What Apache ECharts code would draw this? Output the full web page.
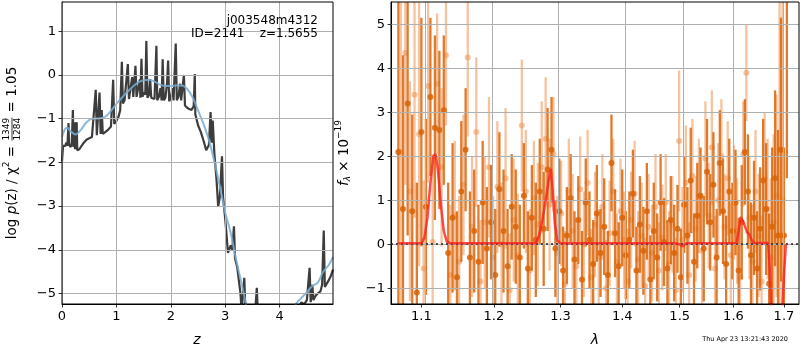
<!DOCTYPE html>
<html>
<head>
<meta charset="utf-8">
<script src="https://cdn.jsdelivr.net/npm/echarts@6/dist/echarts.min.js"></script>
<style>
  html, body { margin: 0; padding: 0; background: #fff; }
  #chart { width: 800px; height: 350px; }
</style>
</head>
<body>
<div id="chart"></div>
<script>
// 左图: log p(z)
const zDark = [0.00, 0.02, 0.04, 0.06, 0.08, 0.10, 0.12, 0.13, 0.16, 0.18, 0.20, 0.21, 0.23, 0.24, 0.27, 0.28,
  0.32, 0.36, 0.40, 0.45, 0.50, 0.55, 0.58, 0.62, 0.64, 0.66, 0.69, 0.71, 0.73, 0.75, 0.80, 0.85, 0.90, 0.94,
  0.96, 1.00, 1.04, 1.07, 1.10, 1.12, 1.15, 1.18, 1.21, 1.23, 1.26, 1.29, 1.31, 1.35, 1.37, 1.40, 1.43, 1.44,
  1.46, 1.48, 1.50, 1.53, 1.55, 1.57, 1.60, 1.62, 1.64, 1.67, 1.70, 1.735, 1.75, 1.78, 1.81, 1.83, 1.85, 1.87,
  1.90, 1.93, 1.95, 1.97, 2.00, 2.03, 2.05, 2.09, 2.11, 2.14, 2.17, 2.19, 2.24, 2.26, 2.30, 2.34, 2.38, 2.42,
  2.44, 2.45, 2.50, 2.55, 2.60, 2.65, 2.70, 2.73, 2.75, 2.77, 2.80, 2.84, 2.87, 2.90, 2.94, 2.96, 3.00, 3.05,
  3.10, 3.13, 3.16, 3.18, 3.22, 3.25, 3.28, 3.30, 3.35, 3.37, 3.45, 3.55, 3.58, 3.60, 3.80, 4.00, 4.20, 4.35,
  4.40, 4.45, 4.50, 4.55, 4.57, 4.60, 4.62, 4.66, 4.70, 4.75, 4.78, 4.81, 4.83, 4.86, 4.90, 4.94, 4.98];
const pDark = [-1.98, -1.62, -1.58, -1.62, -1.55, -1.62, -1.10, -1.60, -1.65, -1.55, -0.80, -1.65, -1.08, -1.70, -1.08, -1.72,
  -1.70, -1.62, -1.55, -1.48, -1.45, -1.42, -1.38, -0.34, -1.38, -1.36, -0.40, -1.35, -0.80, -1.35, -1.30, -1.25, -1.18, -0.11,
  -1.12, -1.05, -0.95, -0.80, 0.30, -0.65, -0.58, -0.55, 0.25, -0.55, -0.52, -0.05, -0.50, 0.21, -0.50, -0.50, -0.10, -0.52,
  0.37, -0.50, -0.40, -0.45, 0.78, -0.52, -0.45, -0.10, -0.52, -0.48, -0.55, 0.67, -0.58, -0.50, -0.30, -0.58, 0.36, -0.58,
  -0.52, -0.20, 0.33, -0.60, -0.52, -0.30, -0.58, 0.72, -0.58, -0.50, -0.20, -0.58, 0.00, -0.70, -0.75, -0.78, -0.80, -0.72,
  0.02, -0.90, -1.15, -1.30, -1.50, -1.72, -1.60, -0.85, -1.55, -1.04, -1.80, -2.40, -3.01, -2.80, -1.86, -2.80, -3.30, -4.07,
  -3.90, -4.00, -3.46, -4.20, -4.40, -4.70, -5.00, -5.40, -4.64, -5.40, -5.50, -5.40, -4.87, -5.50, -6.00, -6.20, -5.90, -5.30,
  -5.20, -5.25, -5.15, -4.41, -5.20, -4.80, -5.15, -5.05, -5.00, -4.95, -4.80, -3.56, -4.85, -4.87, -4.70, -4.60, -4.45];

const zSmooth = [0.00, 0.05, 0.10, 0.15, 0.25, 0.35, 0.45, 0.55, 0.70, 0.80, 0.90, 1.00, 1.10, 1.20, 1.30, 1.40, 1.50,
  1.60, 1.70, 1.80, 1.90, 2.00, 2.10, 2.20, 2.30, 2.40, 2.50, 2.60, 2.70, 2.80, 2.90, 3.00, 3.10, 3.20, 3.30, 3.40,
  3.60, 4.00, 4.20, 4.30, 4.40, 4.50, 4.60, 4.70, 4.80, 4.90, 4.98];
const pSmooth = [-1.42, -1.25, -1.21, -1.28, -1.36, -1.25, -1.08, -1.00, -0.99, -0.95, -0.82, -0.66, -0.52, -0.39, -0.27, -0.17, -0.12,
  -0.11, -0.15, -0.22, -0.25, -0.25, -0.24, -0.24, -0.32, -0.51, -0.81, -1.12, -1.49, -1.98, -2.55, -3.15, -3.61, -4.23, -4.77, -5.35,
  -6.30, -6.60, -5.60, -5.24, -5.10, -4.97, -4.83, -4.75, -4.50, -4.35, -4.17];

const zTicks = [0, 1, 2, 3, 4];
const pTicks = [-5, -4, -3, -2, -1, 0, 1];

// 右图: 光谱
const lamA = [1.070, 1.076, 1.082, 1.088, 1.094, 1.100, 1.106, 1.112, 1.118, 1.124, 1.130, 1.136, 1.142, 1.148, 1.154,
  1.160, 1.166, 1.172, 1.178, 1.184, 1.190, 1.196, 1.202, 1.208, 1.214, 1.220, 1.226, 1.232, 1.238, 1.244, 1.250,
  1.256, 1.262, 1.268, 1.274, 1.280, 1.286, 1.292, 1.298, 1.304, 1.310, 1.316, 1.322, 1.328, 1.334, 1.340, 1.346,
  1.352, 1.358, 1.364, 1.370, 1.376, 1.382, 1.388, 1.394, 1.400, 1.406, 1.412, 1.418, 1.424, 1.430, 1.436, 1.442,
  1.448, 1.454, 1.460, 1.466, 1.472, 1.478, 1.484, 1.490, 1.496, 1.502, 1.508, 1.514, 1.520, 1.526, 1.532, 1.538,
  1.544, 1.550, 1.556, 1.562, 1.568, 1.574, 1.580, 1.586, 1.592, 1.598, 1.604, 1.610, 1.616, 1.622, 1.628, 1.634,
  1.640, 1.646, 1.652, 1.658, 1.664, 1.670, 1.676, 1.682, 1.688, 1.694, 1.700, 1.706];
const fluxA = [2.10, 0.80, 3.20, 0.75, -1.10, 2.55, 0.85, 3.35, 2.65, 2.60, 3.05, -0.20, 0.60, -0.75, 1.20,
  2.15, -0.30, 0.30, -0.40, 0.95, -0.10, 0.50, -0.70, 1.25, 0.30, -0.50, 0.85, 0.40, -0.30, 1.10, -0.55,
  0.60, 0.10, 1.20, 0.35, 1.70, 2.15, -0.10, 0.75, -0.60, 0.20, 1.05, -0.35, 0.55, -0.80, 0.95, 0.10,
  -0.45, 0.70, -0.20, 0.40, -0.70, 1.85, 0.25, -0.50, 0.60, -0.25, 0.10, 1.15, -0.60, 0.45, -0.15, 0.75,
  -0.80, 0.30, -0.30, 0.95, 0.05, -0.55, 0.55, -0.20, 0.35, -0.75, 0.90, 0.20, 1.45, -0.40, 0.65, 1.10,
  -0.10, 1.65, 0.50, 1.35, -0.30, 1.85, 0.75, -0.45, 1.20, 0.30, 0.95, -0.60, 0.50, 2.10, 1.20, -0.25,
  0.60, -0.55, 0.35, 1.45, 0.80, -0.90, 0.40, 1.50, 0.20, 2.15, 0.20, 6.50];
const errA = [4.0, 3.5, 3.0, 2.2, 2.5, 2.6, 2.0, 1.8, 2.1, 1.8, 1.7, 1.6, 1.7, 1.5, 1.6,
  1.4, 1.5, 1.4, 1.3, 1.4, 1.4, 1.3, 1.5, 1.3, 1.4, 1.3, 1.2, 1.3, 1.2, 1.2, 1.3,
  1.2, 1.3, 1.2, 1.3, 1.4, 1.2, 1.1, 1.2, 1.0, 1.1, 1.0, 1.1, 1.0, 1.1, 1.0, 1.1,
  1.0, 1.1, 1.0, 1.1, 1.0, 1.1, 1.0, 1.0, 1.1, 1.0, 1.1, 1.0, 1.0, 1.1, 1.0, 1.1,
  1.0, 1.1, 1.0, 1.1, 1.0, 1.1, 1.0, 1.1, 1.0, 1.1, 1.1, 1.1, 1.2, 1.1, 1.2, 1.1,
  1.2, 1.2, 1.1, 1.2, 1.1, 1.2, 1.2, 1.1, 1.2, 1.1, 1.2, 1.2, 1.3, 1.2, 1.3, 1.2,
  1.3, 1.3, 1.4, 1.4, 1.5, 1.6, 1.8, 2.0, 2.4, 3.0, 2.0, 5.0];

const lamB = [1.073, 1.079, 1.085, 1.091, 1.097, 1.103, 1.109, 1.115, 1.121, 1.127, 1.133, 1.139, 1.145, 1.151, 1.157,
  1.163, 1.169, 1.175, 1.181, 1.187, 1.193, 1.199, 1.205, 1.211, 1.217, 1.223, 1.229, 1.235, 1.241, 1.247, 1.253,
  1.259, 1.265, 1.271, 1.277, 1.283, 1.289, 1.295, 1.301, 1.307, 1.313, 1.319, 1.325, 1.331, 1.337, 1.343, 1.349,
  1.355, 1.361, 1.367, 1.373, 1.379, 1.385, 1.391, 1.397, 1.403, 1.409, 1.415, 1.421, 1.427, 1.433, 1.439, 1.445,
  1.451, 1.457, 1.463, 1.469, 1.475, 1.481, 1.487, 1.493, 1.499, 1.505, 1.511, 1.517, 1.523, 1.529, 1.535, 1.541,
  1.547, 1.553, 1.559, 1.565, 1.571, 1.577, 1.583, 1.589, 1.595, 1.601, 1.607, 1.613, 1.619, 1.625, 1.631, 1.637,
  1.643, 1.649, 1.655, 1.661, 1.667, 1.673, 1.679, 1.685, 1.691, 1.697];
const fluxB = [2.10, 4.35, 1.20, 3.40, 2.50, -0.55, 3.60, 0.05, 3.65, 1.75, 4.30, -0.70, 0.65, -0.40, 1.35,
  4.25, 0.40, 2.55, -0.85, 0.50, 1.75, -0.30, 1.30, 0.00, 1.50, -1.05, 0.55, -0.25, 2.70, 1.20, -0.60,
  1.05, 0.45, 1.75, 2.40, 0.90, 2.05, -0.20, 0.70, -0.90, 1.20, 0.30, -0.50, 1.25, 0.00, 1.40, -0.75,
  0.45, -0.30, 0.85, -1.00, 0.25, 1.20, -0.40, 0.75, 0.10, -0.85, 0.55, 1.15, -0.35, 0.20, -0.95, 0.40,
  -0.20, 0.85, -0.60, 0.15, 0.95, -0.45, 0.45, -1.05, 2.35, 0.10, 1.40, -0.70, 1.55, 0.35, 1.10, -0.15,
  1.95, 0.65, 2.20, -0.55, 1.00, 2.00, 0.40, 1.50, -0.25, 0.95, 0.30, -0.75, 2.05, 3.90, 0.60, -0.40,
  1.20, 0.20, -0.85, 1.50, 0.80, -0.30, 0.50, 1.10, 2.15, 1.00];
const errB = [3.8, 3.0, 2.5, 2.8, 3.0, 2.0, 2.2, 2.0, 1.6, 1.8, 1.6, 1.6, 1.7, 1.5, 1.6,
  1.8, 1.6, 1.7, 1.4, 1.5, 1.6, 1.4, 1.5, 1.4, 1.6, 1.3, 1.4, 1.4, 1.5, 1.4, 1.4,
  1.3, 1.4, 1.5, 1.4, 1.5, 1.3, 1.3, 1.2, 1.2, 1.2, 1.3, 1.1, 1.2, 1.2, 1.2, 1.1,
  1.2, 1.1, 1.2, 1.1, 1.2, 1.2, 1.1, 1.2, 1.1, 1.2, 1.1, 1.2, 1.1, 1.2, 1.1, 1.2,
  1.1, 1.2, 1.1, 1.2, 1.1, 1.2, 1.1, 1.2, 1.6, 1.2, 1.3, 1.2, 1.3, 1.2, 1.3, 1.2,
  1.3, 1.2, 1.3, 1.2, 1.3, 1.3, 1.2, 1.3, 1.2, 1.3, 1.2, 1.3, 1.2, 1.1, 1.4, 1.3,
  1.4, 1.4, 1.5, 1.5, 1.6, 1.8, 2.0, 2.3, 4.5, 6.0];

const lamModel = [1.070, 1.100, 1.104, 1.108, 1.112, 1.116, 1.119, 1.122, 1.126, 1.130, 1.134, 1.140, 1.262, 1.267,
  1.272, 1.277, 1.281, 1.285, 1.288, 1.291, 1.295, 1.300, 1.490, 1.500, 1.505, 1.512, 1.606, 1.610, 1.614, 1.617,
  1.621, 1.626, 1.631, 1.635, 1.640, 1.668, 1.671, 1.674, 1.680, 1.690, 1.697, 1.700, 1.704];
const fluxModel = [0.02, 0.02, 0.15, 0.60, 1.40, 2.00, 2.05, 1.70, 0.90, 0.30, 0.06, 0.02, 0.02, 0.20,
  0.55, 1.00, 1.40, 1.72, 1.20, 0.50, 0.08, 0.02, 0.02, 0.00, -0.05, 0.02, 0.03, 0.30, 0.62, 0.65,
  0.45, 0.28, 0.22, 0.10, 0.03, 0.03, -0.50, -1.40, -2.20, -2.20, -1.40, -0.70, 0.00];

const lamTicks = [1.1, 1.2, 1.3, 1.4, 1.5, 1.6, 1.7];
const fluxTicks = [-1, 0, 1, 2, 3, 4, 5];

// 颜色
const darkOrange = 'rgba(217,100,8,0.85)';
const lightOrange = 'rgba(238,152,90,0.58)';
const gridColor = '#b0b0b0';
const FONT = '"DejaVu Sans", sans-serif';

const minus = v => (v < 0 ? '\u2212' + Math.abs(v) : String(v));

// 误差棒
function errorbar(color) {
  return function (params, api) {
    const x = api.value(0), y = api.value(1), e = api.value(2);
    const top = api.coord([x, y + e]);
    const bot = api.coord([x, y - e]);
    const c = api.coord([x, y]);
    return {
      type: 'group',
      children: [
        { type: 'line', shape: { x1: top[0], y1: top[1], x2: bot[0], y2: bot[1] }, style: { stroke: color, lineWidth: 2.3 } },
        { type: 'circle', shape: { cx: c[0], cy: c[1], r: 3 }, style: { fill: color } }
      ]
    };
  };
}

// 带上下标的轴标题
const mctx = document.createElement('canvas').getContext('2d');
function tw(t, size, italic) {
  mctx.font = (italic ? 'italic ' : '') + size + 'px ' + FONT;
  return mctx.measureText(t).width;
}
function mathLabel(cx, cy, parts) {
  let x = 0;
  const kids = [];
  parts.forEach(p => {
    if (p.num) {
      const w = Math.max(tw(p.num, p.size), tw(p.den, p.size)) + 2;
      kids.push({ type: 'text', x: x + w / 2, y: -5, style: { text: p.num, font: p.size + 'px ' + FONT, fill: '#000', align: 'center', verticalAlign: 'middle' } });
      kids.push({ type: 'text', x: x + w / 2, y: 5.5, style: { text: p.den, font: p.size + 'px ' + FONT, fill: '#000', align: 'center', verticalAlign: 'middle' } });
      kids.push({ type: 'line', shape: { x1: x + 1, y1: 0, x2: x + w - 1, y2: 0 }, style: { stroke: '#000', lineWidth: 0.8 } });
      x += w;
    } else {
      kids.push({ type: 'text', x: x, y: p.dy || 0, style: { text: p.t, font: (p.italic ? 'italic ' : '') + p.size + 'px ' + FONT, fill: '#000', align: 'left', verticalAlign: 'middle' } });
      x += tw(p.t, p.size, p.italic);
    }
  });
  kids.forEach(k => {
    if (k.type === 'line') { k.shape.x1 -= x / 2; k.shape.x2 -= x / 2; } else { k.x -= x / 2; }
  });
  return { type: 'group', x: cx, y: cy, rotation: Math.PI / 2, children: kids };
}

function gridLines(xs, ys) {
  return {
    silent: true,
    symbol: 'none',
    animation: false,
    label: { show: false },
    lineStyle: { color: gridColor, width: 1, type: 'solid' },
    data: xs.map(v => ({ xAxis: v })).concat(ys.map(v => ({ yAxis: v })))
  };
}

const axisCommon = {
  axisLine: { show: true, onZero: false, lineStyle: { color: '#000', width: 1 } },
  axisTick: { show: true, length: 3.5, lineStyle: { color: '#000', width: 0.8 } },
  axisLabel: { color: '#000', fontSize: 13, fontFamily: FONT, margin: 6 },
  splitLine: { show: false }
};

const chart = echarts.init(document.getElementById('chart'));
chart.setOption({
  animation: false,
  backgroundColor: '#fff',
  grid: [
    { left: 62, top: 2, width: 271, height: 302 },
    { left: 391, top: 2, width: 408, height: 302 }
  ],
  xAxis: [
    Object.assign({}, axisCommon, {
      gridIndex: 0, type: 'value', min: 0, max: 4.98,
      axisTick: Object.assign({}, axisCommon.axisTick, { customValues: zTicks }),
      axisLabel: Object.assign({}, axisCommon.axisLabel, { customValues: zTicks })
    }),
    Object.assign({}, axisCommon, {
      gridIndex: 1, type: 'value', min: Math.log(1.0606), max: Math.log(1.731),
      axisTick: Object.assign({}, axisCommon.axisTick, { customValues: lamTicks.map(Math.log) }),
      axisLabel: Object.assign({}, axisCommon.axisLabel, {
        customValues: lamTicks.map(Math.log),
        formatter: v => Math.exp(v).toFixed(1)
      })
    })
  ],
  yAxis: [
    Object.assign({}, axisCommon, {
      gridIndex: 0, type: 'value', min: -5.24, max: 1.67,
      axisTick: Object.assign({}, axisCommon.axisTick, { customValues: pTicks }),
      axisLabel: Object.assign({}, axisCommon.axisLabel, { customValues: pTicks, formatter: minus })
    }),
    Object.assign({}, axisCommon, {
      gridIndex: 1, type: 'value', min: -1.36, max: 5.51,
      axisTick: Object.assign({}, axisCommon.axisTick, { customValues: fluxTicks }),
      axisLabel: Object.assign({}, axisCommon.axisLabel, { customValues: fluxTicks, formatter: minus })
    })
  ],
  series: [
    {
      type: 'scatter', xAxisIndex: 0, yAxisIndex: 0, data: [], z: 1,
      markLine: gridLines(zTicks, pTicks)
    },
    {
      name: 'pz', type: 'line', xAxisIndex: 0, yAxisIndex: 0, z: 3,
      data: zDark.map((z, i) => [z, pDark[i]]),
      showSymbol: false, symbol: 'none', clip: true,
      lineStyle: { color: 'rgba(45,45,45,0.92)', width: 2.2 }
    },
    {
      name: 'smooth', type: 'line', xAxisIndex: 0, yAxisIndex: 0, z: 4,
      data: zSmooth.map((z, i) => [z, pSmooth[i]]),
      showSymbol: false, symbol: 'none', clip: true, smooth: 0.3,
      lineStyle: { color: 'rgba(120,172,212,0.85)', width: 2 }
    },
    {
      type: 'custom', xAxisIndex: 1, yAxisIndex: 1, z: 2, clip: true,
      renderItem: errorbar(lightOrange),
      data: lamB.map((l, i) => [Math.log(l), fluxB[i], errB[i]])
    },
    {
      type: 'custom', xAxisIndex: 1, yAxisIndex: 1, z: 2, clip: true,
      renderItem: errorbar(darkOrange),
      data: lamA.map((l, i) => [Math.log(l), fluxA[i], errA[i]])
    },
    {
      type: 'scatter', xAxisIndex: 1, yAxisIndex: 1, data: [], z: 3,
      markLine: gridLines(lamTicks.map(Math.log), fluxTicks)
    },
    {
      name: 'model', type: 'line', xAxisIndex: 1, yAxisIndex: 1, z: 5,
      data: lamModel.map((l, i) => [Math.log(l), fluxModel[i]]),
      showSymbol: false, symbol: 'none', clip: true,
      lineStyle: { color: 'rgba(255,30,30,0.8)', width: 2.5 },
      markLine: {
        silent: true, symbol: 'none', label: { show: false },
        lineStyle: { color: '#222', width: 1.6, type: [2, 3] },
        data: [{ yAxis: 0 }]
      }
    }
  ],
  graphic: [
    { type: 'rect', shape: { x: 62, y: 2, width: 271, height: 302 }, style: { fill: 'none', stroke: '#000', lineWidth: 1 }, z: 100 },
    { type: 'rect', shape: { x: 391, y: 2, width: 408, height: 302 }, style: { fill: 'none', stroke: '#000', lineWidth: 1 }, z: 100 },
    { type: 'text', x: 318, y: 21, style: { text: 'j003548m4312', font: '12px ' + FONT, fill: '#000', align: 'right', verticalAlign: 'middle' }, z: 100 },
    { type: 'text', x: 318, y: 34, style: { text: 'ID=2141    z=1.5655', font: '12px ' + FONT, fill: '#000', align: 'right', verticalAlign: 'middle' }, z: 100 },
    { type: 'text', x: 197, y: 340, style: { text: 'z', font: 'italic 14px ' + FONT, fill: '#000', align: 'center', verticalAlign: 'middle' } },
    { type: 'text', x: 595, y: 340, style: { text: '\u03bb', font: 'italic 14px ' + FONT, fill: '#000', align: 'center', verticalAlign: 'middle' } },
    { type: 'text', x: 788, y: 339, style: { text: 'Thu Apr 23 13:21:43 2020', font: '6.5px ' + FONT, fill: '#000', align: 'right', verticalAlign: 'middle' } },
    mathLabel(12, 153, [
      { t: 'log ', size: 13.5 },
      { t: 'p', size: 13.5, italic: true },
      { t: '(z) / \u03c7', size: 13.5 },
      { t: '2', size: 9, dy: -5 },
      { t: ' = ', size: 13.5 },
      { num: '1349', den: '1284', size: 9 },
      { t: ' = 1.05', size: 13.5 }
    ]),
    mathLabel(344, 153, [
      { t: 'f', size: 13.5, italic: true },
      { t: '\u03bb', size: 9, italic: true, dy: 4 },
      { t: ' \u00d7 10', size: 13.5 },
      { t: '\u221219', size: 9, dy: -5 }
    ])
  ]
});
</script>
</body>
</html>
